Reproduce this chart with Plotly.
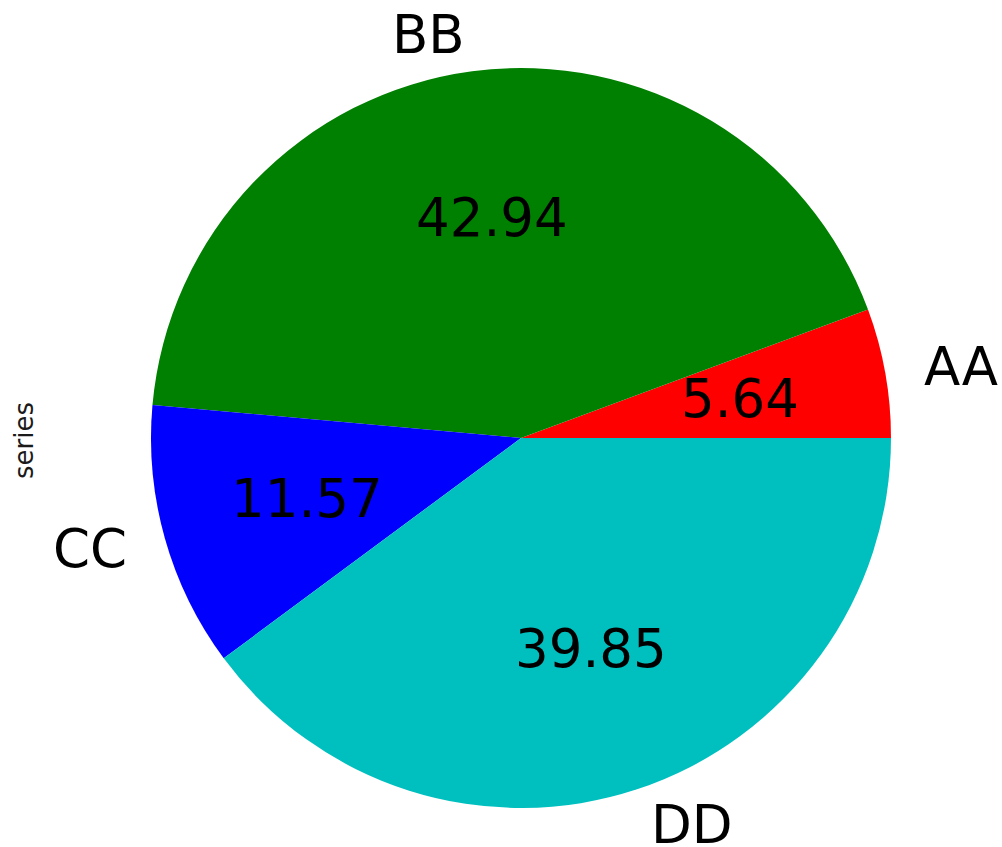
import math
import plotly.graph_objects as go

# Data
labels = ["AA", "BB", "CC", "DD"]
values = [5.64, 42.94, 11.57, 39.85]
colors = ["#ff0000", "#008000", "#0000ff", "#00bfbf"]
ylabel = "series"

W, H = 1002, 847
cx, cy, R = 521, 438, 370  # pie centre and radius in pixels

total = sum(values)
first_deg = 360.0 * values[0] / total

fig = go.Figure()
fig.add_trace(go.Pie(
    labels=labels,
    values=values,
    sort=False,
    direction="counterclockwise",
    rotation=90 - first_deg,
    marker=dict(colors=colors, line=dict(width=0)),
    textinfo="none",
    hoverinfo="label+percent",
    showlegend=False,
    domain=dict(x=[(cx - R) / W, (cx + R) / W], y=[1 - (cy + R) / H, 1 - (cy - R) / H]),
))

font = dict(family="DejaVu Sans", size=53, color="black")
start = 0.0
annotations = []
for lab, v in zip(labels, values):
    frac = v / total
    mid = (start + frac / 2) * 2 * math.pi
    start += frac
    c, s = math.cos(mid), math.sin(mid)
    lx, ly = cx + 1.1 * R * c, cy - 1.1 * R * s
    annotations.append(dict(
        x=lx / W, y=1 - ly / H, xref="paper", yref="paper",
        text=lab, showarrow=False, font=font,
        xanchor="left" if c > 0 else "right", yanchor="middle",
    ))
    px, py = cx + 0.6 * R * c, cy - 0.6 * R * s
    annotations.append(dict(
        x=px / W, y=1 - py / H, xref="paper", yref="paper",
        text=f"{100 * frac:.2f}", showarrow=False, font=font,
        xanchor="center", yanchor="middle",
    ))

annotations.append(dict(
    x=24 / W, y=1 - 441 / H, xref="paper", yref="paper",
    text=ylabel, textangle=-90, showarrow=False,
    font=dict(family="DejaVu Sans", size=26, color="#1a1a1a"),
    xanchor="center", yanchor="middle",
))

fig.update_layout(
    width=W, height=H,
    margin=dict(l=0, r=0, t=0, b=0),
    paper_bgcolor="white", plot_bgcolor="white",
    annotations=annotations,
)

fig.write_html(
    "out.html",
    config={"displayModeBar": False},
    post_script="document.body.style.margin='0';document.body.style.overflow='hidden';",
)
